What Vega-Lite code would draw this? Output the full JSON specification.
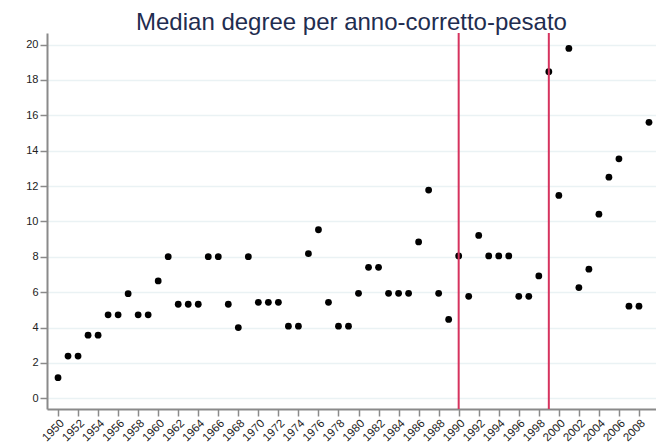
{
  "$schema": "https://vega.github.io/schema/vega-lite/v6.json",
  "width": 609,
  "height": 376,
  "autosize": {"type": "none"},
  "padding": {"left": 47, "top": 33, "right": 0, "bottom": 34},
  "background": "white",
  "title": {
    "text": "Median degree per anno-corretto-pesato",
    "font": "Liberation Sans",
    "fontSize": 24,
    "fontWeight": "normal",
    "color": "#1f2d50",
    "anchor": "middle",
    "baseline": "alphabetic",
    "offset": -22
  },
  "config": {
    "view": {"stroke": null},
    "axis": {
      "labelFont": "Liberation Sans",
      "labelFontSize": 11,
      "labelColor": "#222222",
      "domainColor": "#8a8a8a",
      "domainWidth": 2,
      "tickColor": "#8a8a8a",
      "tickWidth": 1.5,
      "tickSize": 7,
      "gridColor": "#eaf2f4",
      "gridWidth": 1.5,
      "title": null
    },
    "axisX": {"labelOverlap": false, "labelBound": false, "labelFontSize": 11.5}
  },
  "layer": [
    {
      "data": {
        "values": [
          {"year": 1950, "value": 1.17},
          {"year": 1951, "value": 2.39},
          {"year": 1952, "value": 2.39},
          {"year": 1953, "value": 3.57},
          {"year": 1954, "value": 3.57},
          {"year": 1955, "value": 4.72},
          {"year": 1956, "value": 4.72},
          {"year": 1957, "value": 5.92},
          {"year": 1958, "value": 4.72},
          {"year": 1959, "value": 4.72},
          {"year": 1960, "value": 6.64},
          {"year": 1961, "value": 8.01},
          {"year": 1962, "value": 5.32},
          {"year": 1963, "value": 5.32},
          {"year": 1964, "value": 5.32},
          {"year": 1965, "value": 8.01},
          {"year": 1966, "value": 8.01},
          {"year": 1967, "value": 5.32},
          {"year": 1968, "value": 4.0},
          {"year": 1969, "value": 8.01},
          {"year": 1970, "value": 5.43},
          {"year": 1971, "value": 5.43},
          {"year": 1972, "value": 5.43},
          {"year": 1973, "value": 4.08},
          {"year": 1974, "value": 4.08},
          {"year": 1975, "value": 8.18},
          {"year": 1976, "value": 9.53},
          {"year": 1977, "value": 5.43},
          {"year": 1978, "value": 4.08},
          {"year": 1979, "value": 4.08},
          {"year": 1980, "value": 5.94},
          {"year": 1981, "value": 7.41},
          {"year": 1982, "value": 7.41},
          {"year": 1983, "value": 5.94},
          {"year": 1984, "value": 5.94},
          {"year": 1985, "value": 5.94},
          {"year": 1986, "value": 8.84},
          {"year": 1987, "value": 11.77},
          {"year": 1988, "value": 5.94},
          {"year": 1989, "value": 4.46},
          {"year": 1990, "value": 8.05},
          {"year": 1991, "value": 5.77},
          {"year": 1992, "value": 9.21},
          {"year": 1993, "value": 8.05},
          {"year": 1994, "value": 8.05},
          {"year": 1995, "value": 8.05},
          {"year": 1996, "value": 5.77},
          {"year": 1997, "value": 5.77},
          {"year": 1998, "value": 6.92},
          {"year": 1999, "value": 18.46},
          {"year": 2000, "value": 11.47},
          {"year": 2001, "value": 19.78},
          {"year": 2002, "value": 6.26},
          {"year": 2003, "value": 7.3},
          {"year": 2004, "value": 10.41},
          {"year": 2005, "value": 12.5},
          {"year": 2006, "value": 13.54},
          {"year": 2007, "value": 5.21},
          {"year": 2008, "value": 5.21},
          {"year": 2009, "value": 15.6}
        ]
      },
      "mark": {"type": "point", "filled": true, "shape": "circle", "size": 46, "color": "#000000", "opacity": 1},
      "encoding": {
        "x": {
          "field": "year",
          "type": "quantitative",
          "scale": {"domain": [1948.9, 2009.7], "nice": false, "zero": false},
          "axis": {
            "values": [1950,1952,1954,1956,1958,1960,1962,1964,1966,1968,1970,1972,1974,1976,1978,1980,1982,1984,1986,1988,1990,1992,1994,1996,1998,2000,2002,2004,2006,2008],
            "format": "d",
            "grid": false,
            "labelAngle": -45,
            "labelAlign": "right",
            "labelBaseline": "top",
            "labelPadding": 1,
            "labelOverlap": false
          }
        },
        "y": {
          "field": "value",
          "type": "quantitative",
          "scale": {"domain": [-0.6, 20.65], "nice": false, "zero": false},
          "axis": {
            "values": [0, 2, 4, 6, 8, 10, 12, 14, 16, 18, 20],
            "grid": true,
            "labelPadding": 2
          }
        }
      }
    },
    {
      "data": {"values": [{"year": 1990}, {"year": 1999}]},
      "mark": {"type": "rule", "color": "#d6335e", "strokeWidth": 2},
      "encoding": {
        "x": {
          "field": "year",
          "type": "quantitative",
          "axis": {
            "values": [1950,1952,1954,1956,1958,1960,1962,1964,1966,1968,1970,1972,1974,1976,1978,1980,1982,1984,1986,1988,1990,1992,1994,1996,1998,2000,2002,2004,2006,2008],
            "format": "d",
            "grid": false,
            "labelAngle": -45,
            "labelAlign": "right",
            "labelBaseline": "top",
            "labelPadding": 1,
            "labelOverlap": false
          }
        }
      }
    }
  ]
}
